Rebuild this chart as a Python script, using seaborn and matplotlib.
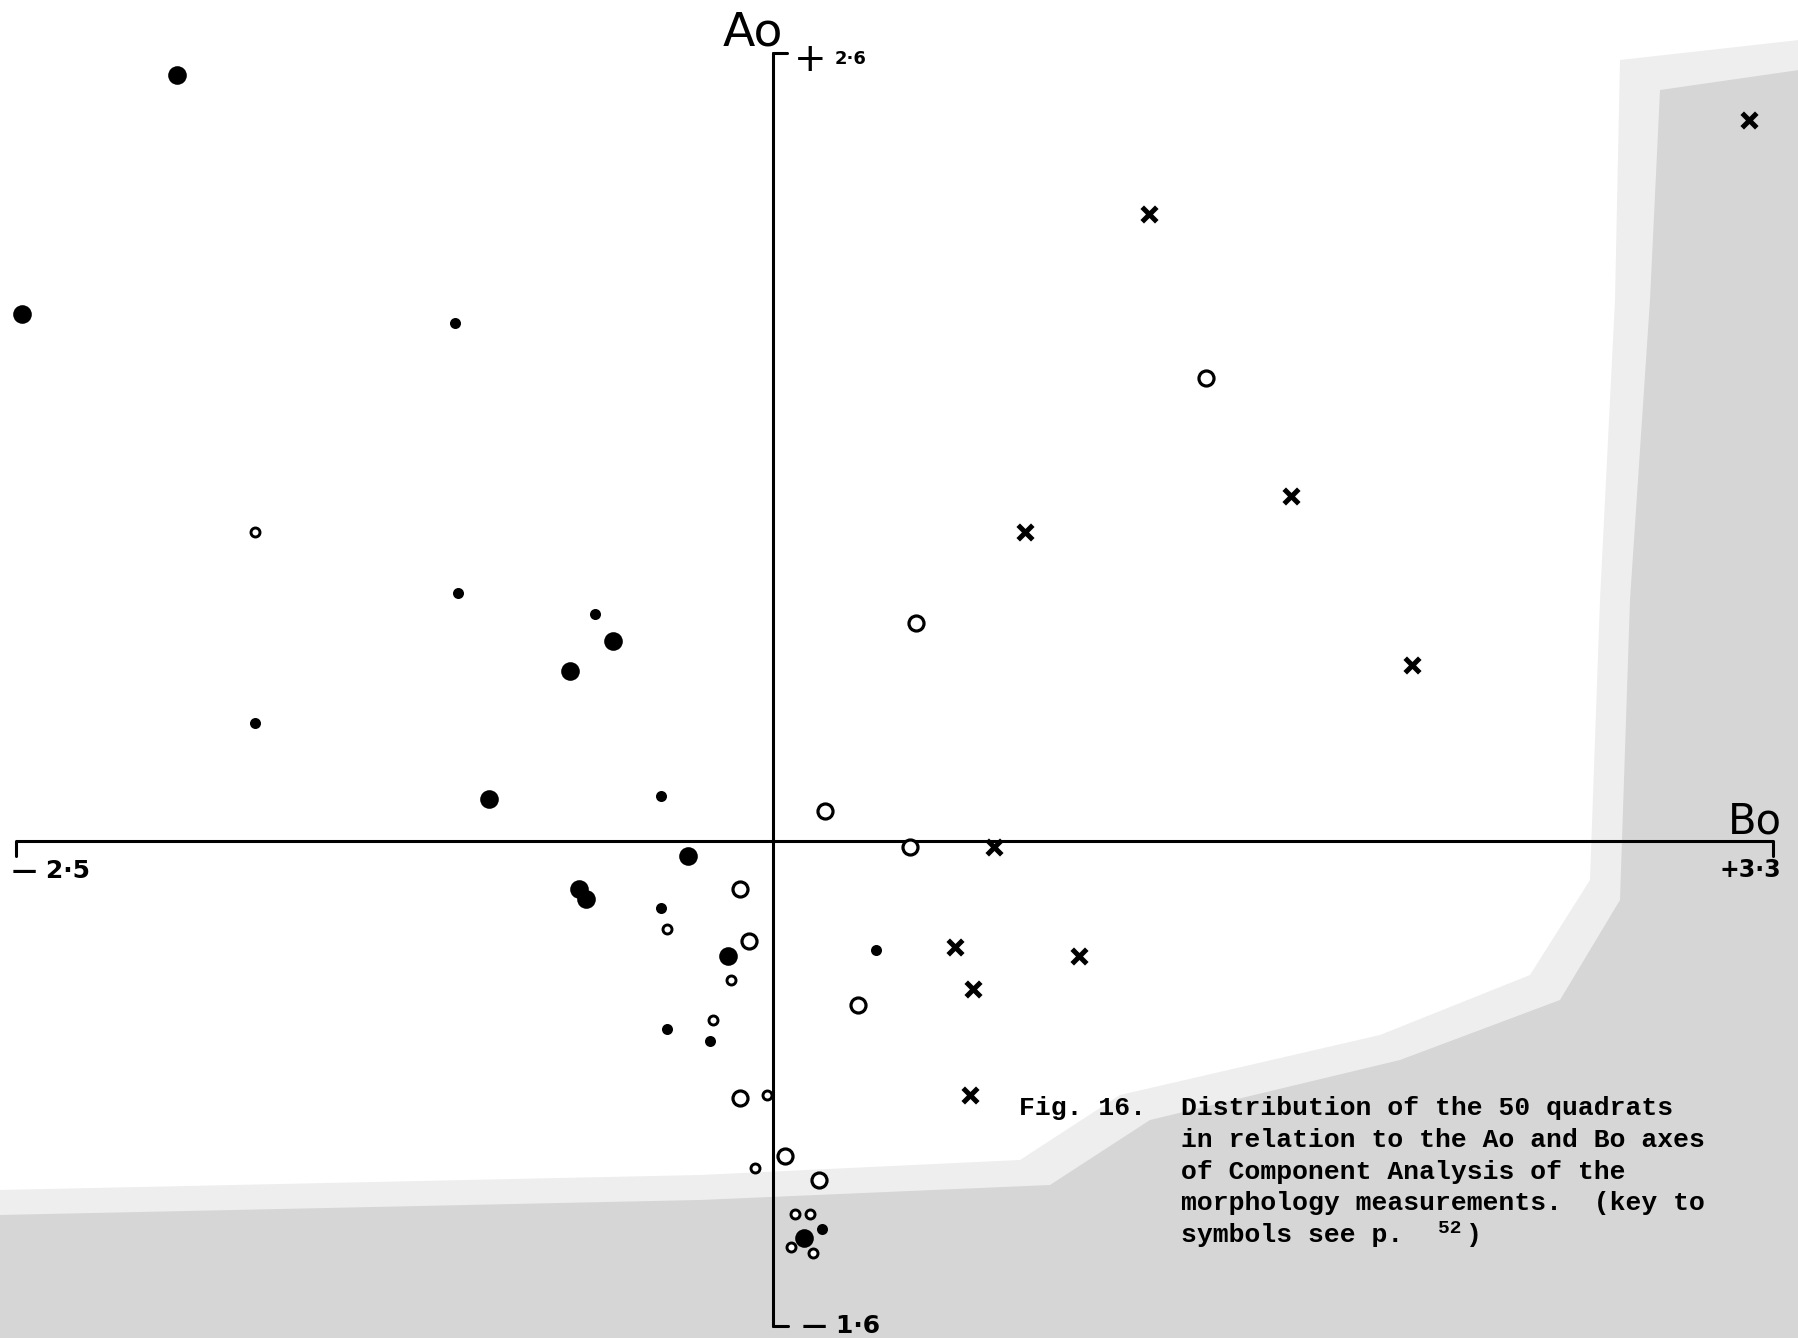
import pandas as pd
import matplotlib
matplotlib.use("Agg")
import matplotlib.pyplot as plt
from matplotlib.patches import Polygon
import seaborn as sns

# component scores (Bo = horizontal, Ao = vertical)
big_filled_x = [-1.97, -2.48, -0.53, -0.67, -0.94, -0.28, -0.64, -0.62, -0.15, 0.10]
big_filled_y = [2.53, 1.74, 0.66, 0.56, 0.14, -0.05, -0.16, -0.19, -0.38, -1.31]

small_filled_x = [-1.05, -1.04, -0.59, -1.71, -0.37, -0.37, -0.35, -0.21, 0.34, 0.16]
small_filled_y = [1.71, 0.82, 0.75, 0.39, 0.15, -0.22, -0.62, -0.66, -0.36, -1.28]

big_open_x = [1.43, 0.47, 0.17, 0.45, -0.11, -0.08, 0.28, -0.11, 0.04, 0.15]
big_open_y = [1.53, 0.72, 0.10, -0.02, -0.16, -0.33, -0.54, -0.85, -1.04, -1.12]

small_open_x = [-1.71, -0.35, -0.14, -0.20, -0.02, -0.06, 0.07, 0.12, 0.06, 0.13]
small_open_y = [1.02, -0.29, -0.46, -0.59, -0.84, -1.08, -1.23, -1.23, -1.34, -1.36]

cross_x = [3.22, 1.24, 1.71, 0.83, 2.11, 0.73, 0.60, 1.01, 0.66, 0.65]
cross_y = [2.38, 2.07, 1.14, 1.02, 0.58, -0.02, -0.35, -0.38, -0.49, -0.84]

bo_range = [-2.5, 3.3]
ao_range = [-1.6, 2.6]

caption_lines = [
    "Distribution of the 50 quadrats",
    "in relation to the Ao and Bo axes",
    "of Component Analysis of the",
    "morphology measurements.  (key to",
    "symbols see p.",
]

groups = {
    "big_filled": (big_filled_x, big_filled_y),
    "small_filled": (small_filled_x, small_filled_y),
    "big_open": (big_open_x, big_open_y),
    "small_open": (small_open_x, small_open_y),
    "cross": (cross_x, cross_y),
}
frames = []
for name, (xs, ys) in groups.items():
    frames.append(pd.DataFrame({"Bo": xs, "Ao": ys, "symbol": name}))
df = pd.concat(frames, ignore_index=True)

styles = {
    "big_filled": dict(marker="o", s=180, color="black", linewidth=0),
    "small_filled": dict(marker="o", s=63, color="black", linewidth=0),
    "big_open": dict(marker="o", s=117, color="white", edgecolor="black", linewidth=2.3),
    "small_open": dict(marker="o", s=42, color="white", edgecolor="black", linewidth=2.1),
    "cross": dict(marker="x", s=110, color="black", linewidth=3.6),
}

W, H = 1799, 1338
X0, Y0, UNIT = 773.3, 841.0, 302.9  # pixel position of origin and pixels per unit


def px2d(px, py):
    return (px - X0) / UNIT, (Y0 - py) / UNIT


sns.set_style("white")
fig = plt.figure(figsize=(W / 100, H / 100), dpi=100)
ax = fig.add_axes([0, 0, 1, 1])
ax.set_xlim((0 - X0) / UNIT, (W - X0) / UNIT)
ax.set_ylim((Y0 - H) / UNIT, Y0 / UNIT)
ax.axis("off")
ax.patch.set_alpha(0)

# grey tone of the scanned page (bottom and right side)
edge = [(0, 1215), (700, 1200), (1050, 1185), (1150, 1120), (1400, 1060), (1560, 1000),
        (1620, 900), (1630, 600), (1650, 300), (1660, 90), (W, 70), (W, H), (0, H)]
halo = [(0, 1190), (700, 1175), (1020, 1160), (1120, 1095), (1380, 1035), (1530, 975),
        (1590, 880), (1600, 600), (1615, 300), (1620, 60), (W, 40), (W, H), (0, H)]
for pts, col in [(halo, "#eeeeee"), (edge, "#d6d6d6")]:
    fig.add_artist(Polygon([(x / W, 1 - y / H) for x, y in pts], closed=True,
                           transform=fig.transFigure, facecolor=col, edgecolor="none", zorder=0))

# hand-drawn axes
lw = 2.2
ax.plot(bo_range, [0, 0], color="black", lw=lw, solid_capstyle="butt", zorder=2)
ax.plot([bo_range[0], bo_range[0]], [0, -0.05], color="black", lw=lw, zorder=2)
ax.plot([bo_range[1], bo_range[1]], [0, -0.05], color="black", lw=lw, zorder=2)
ax.plot([0, 0], ao_range, color="black", lw=lw, zorder=2)
ax.plot([0, 0.045], [ao_range[1], ao_range[1]], color="black", lw=lw, zorder=2)
ax.plot([0, 0.05], [ao_range[0], ao_range[0]], color="black", lw=lw, zorder=2)

for name, sub in df.groupby("symbol", sort=False):
    sns.scatterplot(data=sub, x="Bo", y="Ao", ax=ax, legend=False, zorder=3, **styles[name])

# axis lettering
ink = "black"
ax.text(*px2d(783, 45), "Ao", fontsize=34, color=ink, ha="right", va="baseline")
ax.text(*px2d(810, 60), "+", fontsize=28, color=ink, ha="center", va="center")
ax.text(*px2d(835, 59), "2·6", fontsize=13, fontweight="bold", color=ink, ha="left", va="center")
ax.text(*px2d(12, 871), "— 2·5", fontsize=18, fontweight="bold", color=ink, ha="left", va="center")
ax.text(*px2d(1728, 833), "Bo", fontsize=30, color=ink, ha="left", va="baseline")
ax.text(*px2d(1720, 870), "+3·3", fontsize=17, fontweight="bold", color=ink, ha="left", va="center")
ax.text(*px2d(802, 1326), "— 1·6", fontsize=18, fontweight="bold", color=ink, ha="left", va="center")

# typed caption
mono = dict(family=["Liberation Mono", "DejaVu Sans Mono"], fontsize=19, fontweight="bold", color=ink)
ax.text(*px2d(1019, 1115), "Fig. 16.", ha="left", va="baseline", **mono)
for i, line in enumerate(caption_lines):
    ax.text(*px2d(1181, 1115 + i * 31.8), line, ha="left", va="baseline", **mono)
ax.text(*px2d(1438, 1233), "52", ha="left", va="baseline",
        **{**mono, "fontsize": 14})
ax.text(*px2d(1466, 1242), ")", ha="left", va="baseline", **mono)

fig.savefig("out.png", dpi=100)
